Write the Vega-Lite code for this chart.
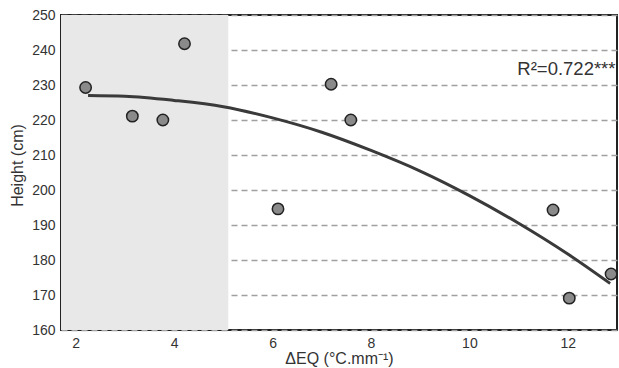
{
  "$schema": "https://vega.github.io/schema/vega-lite/v6.json",
  "width": 556,
  "height": 315,
  "autosize": {"type": "none"},
  "padding": {"left": 61, "top": 15, "right": 2, "bottom": 38},
  "config": {
    "font": "Liberation Sans",
    "view": {"stroke": "#222222", "strokeWidth": 2},
    "axis": {"labelFont": "Liberation Sans", "titleFont": "Liberation Sans", "labelColor": "#333333", "titleColor": "#333333", "titleFontWeight": "normal", "labelOverlap": false}
  },
  "datasets": {
    "points": [
      {"deq": 2.20, "height": 229.3},
      {"deq": 3.15, "height": 221.1},
      {"deq": 3.77, "height": 220.0},
      {"deq": 4.21, "height": 241.8},
      {"deq": 6.11, "height": 194.6},
      {"deq": 7.19, "height": 230.2},
      {"deq": 7.59, "height": 220.0},
      {"deq": 11.70, "height": 194.3},
      {"deq": 12.03, "height": 169.1},
      {"deq": 12.88, "height": 176.0}
    ],
    "fit": [
      {"deq": 2.25, "height": 227.0},
      {"deq": 3.0, "height": 226.8},
      {"deq": 4.0, "height": 225.6},
      {"deq": 5.0, "height": 223.8},
      {"deq": 6.0, "height": 220.6},
      {"deq": 7.0, "height": 216.5},
      {"deq": 8.0, "height": 211.3},
      {"deq": 9.0, "height": 205.4},
      {"deq": 10.0, "height": 198.4},
      {"deq": 11.0, "height": 190.5},
      {"deq": 12.0, "height": 181.7},
      {"deq": 12.86, "height": 173.3}
    ],
    "shade": [{"deq": 1.7, "deq2": 5.1, "height": 160, "height2": 250}],
    "label": [{"deq": 12.97, "height": 234.6, "txt": "R²=0.722***"}]
  },
  "encoding": {
    "x": {"field": "deq", "type": "quantitative", "scale": {"domain": [1.7, 13.0], "nice": false, "zero": false},
      "axis": {"values": [2, 4, 6, 8, 10, 12], "grid": false, "ticks": false, "domain": false, "labelFontSize": 14, "labelPadding": 6, "title": "ΔEQ (°C.mm⁻¹)", "titleFontSize": 16, "titlePadding": 0}},
    "y": {"field": "height", "type": "quantitative", "scale": {"domain": [160, 250], "nice": false, "zero": false},
      "axis": {"values": [160, 170, 180, 190, 200, 210, 220, 230, 240, 250], "grid": true, "gridColor": "#a0a0a0", "gridDash": [6, 4], "gridWidth": 1.5, "ticks": false, "domain": false, "labelFontSize": 14, "labelPadding": 6, "labelBound": false, "title": "Height (cm)", "titleFontSize": 16, "titlePadding": 6, "titleY": 150}}
  },
  "layer": [
    {
      "data": {"name": "shade"},
      "mark": {"type": "rect", "color": "#e8e8e8"},
      "encoding": {
        "x2": {"field": "deq2"},
        "y2": {"field": "height2"}
      }
    },
    {
      "data": {"name": "fit"},
      "mark": {"type": "line", "color": "#3a3a3a", "strokeWidth": 3, "interpolate": "monotone"},
      "encoding": {}
    },
    {
      "data": {"name": "points"},
      "mark": {"type": "point", "filled": true, "fill": "#8a8a8a", "stroke": "#222222", "strokeWidth": 1.5, "size": 130, "opacity": 1},
      "encoding": {}
    },
    {
      "data": {"name": "label"},
      "mark": {"type": "text", "align": "right", "baseline": "middle", "fontSize": 18.5, "color": "#333333", "font": "Liberation Sans"},
      "encoding": {
        "text": {"field": "txt"}
      }
    }
  ]
}
